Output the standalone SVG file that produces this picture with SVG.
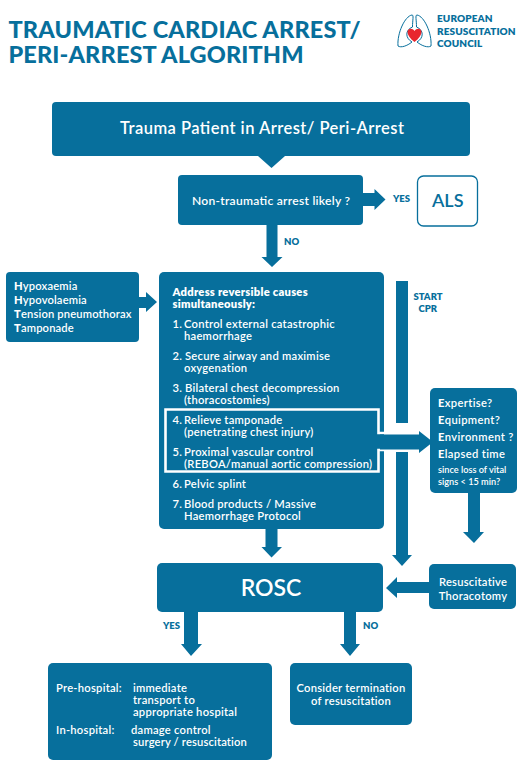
<svg xmlns="http://www.w3.org/2000/svg" width="529" height="768" viewBox="0 0 529 768">
<style>
text{font-family:"Lato","Open Sans","Liberation Sans",sans-serif;fill:#fff;font-weight:600}
.b{fill:#076f9c}
.a{fill:#076f9c;stroke:none}
.t{font-size:11.2px;letter-spacing:.25px}
.l{fill:#076f9c;font-size:9.5px;font-weight:800}
.x{font-weight:900}
.h{fill:#076f9c;font-size:23.5px;font-weight:900}
.e{fill:#076f9c;font-size:10px;font-weight:800;letter-spacing:.1px}
.g{fill:none;stroke:#076f9c;stroke-width:1}
</style>
<rect width="529" height="768" fill="#fff"/>
<g id="title">
<text class="h"><tspan x="8.500" y="38" textLength="352">TRAUMATIC CARDIAC ARREST/</tspan><tspan x="8.500" y="63" textLength="295">PERI-ARREST ALGORITHM</tspan></text>
</g>
<g id="logo">
<path class="g" d="M412 15C405 16 397 33 398 46C401 48 407 46 412 42C405 38 405 30 412.500 27C412.500 20 414 15 412 15Z"/>
<path class="g" d="M417 15C424 16 432 33 431 46C428 48 422 46 417 42C424 38 424 30 416.500 27C416.500 20 415 15 417 15Z"/>
<path d="M414.500 42C410 38.500 407.500 35 407.500 32C407.500 28 412.500 27.500 414.500 31C416.500 27.500 421.500 28 421.500 32C421.500 35 419 38.500 414.500 42Z" fill="#e8262d"/>
<text class="e"><tspan x="437" y="22">EUROPEAN</tspan><tspan x="437" y="34.800">RESUSCITATION</tspan><tspan x="437" y="47">COUNCIL</tspan></text>
</g>
<g id="connectors">
<path class="a" d="M258 156H285L271.500 168Z"/>
<path class="a" d="M363 193H374.500V189L385.500 199.500L374.500 210V206H363Z"/>
<path class="a" d="M266.500 225H277.500V257H282.500L272 267L261.500 257H266.500Z"/>
<path class="a" d="M139 297H146V292L157 302L146 312V308H139Z"/>
<path class="a" d="M396 281H408V423H396Z"/>
<path class="a" d="M396 452H408V555H412L402 566L392 555H396Z"/>
<path class="a" d="M468 493H480V532H484L474 543L463 532H468Z"/>
<path class="a" d="M265.500 528H277.500V547H282L271.500 557.500L261.500 547H265.500Z"/>
<path class="a" d="M429 582H397V577L386 588L397 598V593H429Z"/>
<path class="a" d="M184 612H198V644H202L191 656L181 644H184Z"/>
<path class="a" d="M344 612H356V644H360L350 656L340 644H344Z"/>
</g>
<g id="trauma"><rect class="b" x="52" y="102" width="418" height="54" rx="4"/><text x="120" y="134" font-size="16.500" textLength="284">Trauma Patient in Arrest/ Peri-Arrest</text></g>
<g id="nontraumatic"><rect class="b" x="178" y="175" width="185" height="50" rx="4"/><text x="192" y="204.500" font-size="12.100" textLength="158">Non-traumatic arrest likely ?</text></g>
<g id="als"><rect x="417.500" y="176" width="60" height="50" rx="6" fill="#fff" stroke="#076f9c" stroke-width="1.300"/><text x="432" y="206.500" font-size="18" style="fill:#076f9c">ALS</text></g>
<text class="l" x="393" y="202">YES</text>
<text class="l" x="284" y="244.500">NO</text>
<g id="hhtt"><rect class="b" x="6" y="272" width="133" height="70" rx="4"/>
<text class="t" style="letter-spacing:.15px"><tspan x="14" y="290"><tspan class="x">H</tspan>ypoxaemia</tspan><tspan x="14" y="304"><tspan class="x">H</tspan>ypovolaemia</tspan><tspan x="14" y="318"><tspan class="x">T</tspan>ension pneumothorax</tspan><tspan x="14" y="332"><tspan class="x">T</tspan>amponade</tspan></text></g>
<g id="causes"><rect class="b" x="159" y="272" width="225" height="257" rx="5"/>
<text class="t" style="font-weight:800"><tspan x="172.500" y="296">Address reversible causes</tspan><tspan x="172.500" y="308">simultaneously:</tspan></text>
<text class="t"><tspan x="172.500" y="328">1.</tspan><tspan x="184" y="328">Control external catastrophic</tspan><tspan x="184" y="340">haemorrhage</tspan>
<tspan x="172.500" y="360">2.</tspan><tspan x="185" y="360">Secure airway and maximise</tspan><tspan x="184" y="372">oxygenation</tspan>
<tspan x="172.500" y="392">3.</tspan><tspan x="185" y="392">Bilateral chest decompression</tspan><tspan x="184" y="404">(thoracostomies)</tspan>
<tspan x="172.500" y="424">4.</tspan><tspan x="184" y="424">Relieve tamponade</tspan><tspan x="184" y="436">(penetrating chest injury)</tspan>
<tspan x="172.500" y="456">5.</tspan><tspan x="184" y="456">Proximal vascular control</tspan><tspan x="184" y="468">(REBOA/manual aortic compression)</tspan>
<tspan x="172.500" y="488">6.</tspan><tspan x="184" y="488">Pelvic splint</tspan>
<tspan x="172.500" y="508">7.</tspan><tspan x="184" y="508">Blood products / Massive</tspan><tspan x="184" y="520">Haemorrhage Protocol</tspan></text>
</g>
<path d="M396 433H378.500V409.500H165.500V471.500H378.500V450H396" fill="none" stroke="#fff" stroke-width="2.600"/>
<path id="arrow-eeee" class="a" d="M380 434.500H419V431L433 442L419 453V449.500H380Z"/>
<text class="l" x="413.500" y="300">START</text><text class="l" x="418.500" y="312">CPR</text>
<g id="eeee"><rect class="b" x="430" y="388" width="87" height="105" rx="5"/>
<text font-size="11.200" letter-spacing=".35"><tspan x="438" y="407"><tspan class="x">E</tspan>xpertise?</tspan><tspan x="438" y="424"><tspan class="x">E</tspan>quipment?</tspan><tspan x="438" y="441"><tspan class="x">E</tspan>nvironment ?</tspan><tspan x="438" y="458"><tspan class="x">E</tspan>lapsed time</tspan></text>
<text font-size="9.200"><tspan x="438" y="473">since loss of vital</tspan><tspan x="438" y="485">signs &lt; 15 min?</tspan></text></g>
<g id="rosc"><rect class="b" x="157" y="563" width="226" height="49" rx="5"/><text x="271" y="596" font-size="23" text-anchor="middle">ROSC</text></g>
<text class="l" x="163" y="629">YES</text><text class="l" x="363" y="629">NO</text>
<g id="thoracotomy"><rect class="b" x="429" y="564" width="87" height="45" rx="5"/><text class="t" text-anchor="middle"><tspan x="473" y="586">Resuscitative</tspan><tspan x="473" y="600">Thoracotomy</tspan></text></g>
<g id="hospital"><rect class="b" x="48" y="663" width="224" height="97" rx="5"/>
<text class="t"><tspan x="56" y="692">Pre-hospital:</tspan><tspan x="133" y="692">immediate</tspan><tspan x="133" y="704">transport to</tspan><tspan x="133" y="716">appropriate hospital</tspan>
<tspan x="56" y="734">In-hospital:</tspan><tspan x="131" y="734">damage control</tspan><tspan x="133" y="746" style="letter-spacing:.15px">surgery / resuscitation</tspan></text></g>
<g id="termination"><rect class="b" x="290" y="663" width="122" height="62" rx="5"/><text class="t" text-anchor="middle"><tspan x="351" y="692">Consider termination</tspan><tspan x="351" y="705">of resuscitation</tspan></text></g>
</svg>
